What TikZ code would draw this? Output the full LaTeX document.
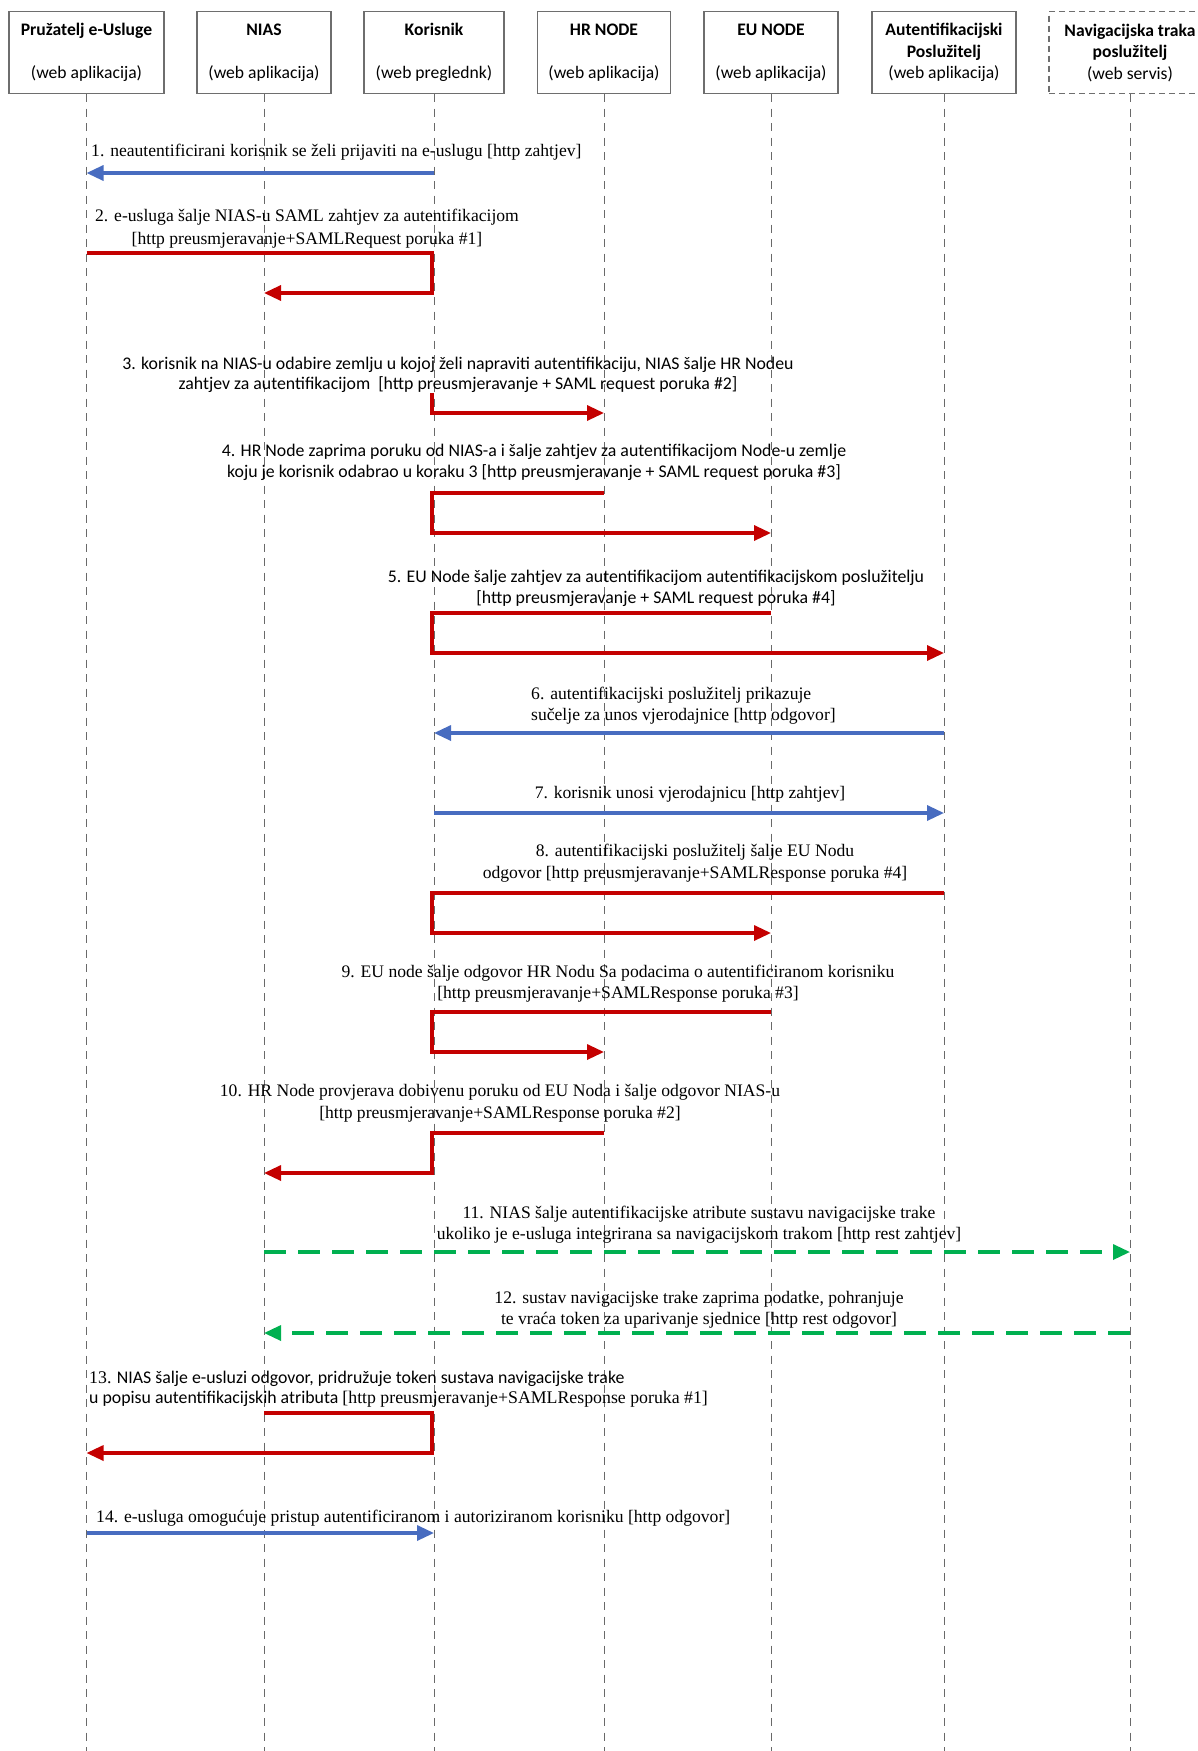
\documentclass[tikz,border=0pt]{standalone}
\usepackage{fontspec}
\setmainfont{Liberation Serif}
\setsansfont{Carlito}
\usetikzlibrary{arrows.meta}
\definecolor{myred}{RGB}{196,0,0}
\definecolor{myblue}{RGB}{72,108,192}
\definecolor{mygreen}{RGB}{0,176,80}
\definecolor{boxgray}{RGB}{110,110,110}
\definecolor{lifegray}{RGB}{105,105,105}
\begin{document}
\begin{tikzpicture}[x=1pt,y=-1pt,
  actor/.style={draw=boxgray, line width=1.2pt, minimum height=82pt, inner sep=0pt, align=center,
    font=\sffamily\fontsize{17.6}{21.5}\selectfont, anchor=north},
  lifeline/.style={draw=lifegray, line width=1pt, dash pattern=on 8pt off 6.5pt},
  msg/.style={inner sep=0pt, font=\rmfamily\fontsize{17.6}{21}\selectfont},
  msgs/.style={inner sep=0pt, font=\sffamily\fontsize{17.8}{21}\selectfont},
  redarr/.style={draw=myred, line width=3.3pt, -{Triangle[length=17pt,width=15pt]}},
  bluearr/.style={draw=myblue, line width=3.3pt, -{Triangle[length=17pt,width=15pt]}},
  greenarr/.style={draw=mygreen, line width=3.3pt, dash pattern=on 22pt off 12pt, -{Triangle[length=17pt,width=15pt]}}
]
\useasboundingbox (0,0) rectangle (1197,1751);
\fill[white] (0,0) rectangle (1197,1751);

% actors
\node[actor, minimum width=155pt] (b1) at (86.5,11) {\textbf{Pružatelj e-Usluge}\\[21.5pt](web aplikacija)};
\node[actor, minimum width=134pt] (b2) at (264,11) {\textbf{NIAS}\\[21.5pt](web aplikacija)};
\node[actor, minimum width=140pt] (b3) at (434,11) {\textbf{Korisnik}\\[21.5pt](web preglednk)};
\node[actor, minimum width=133pt] (b4) at (604,11) {\textbf{HR NODE}\\[21.5pt](web aplikacija)};
\node[actor, minimum width=134pt] (b5) at (771,11) {\textbf{EU NODE}\\[21.5pt](web aplikacija)};
\node[actor, minimum width=144pt] (b6) at (944,11) {\textbf{Autentifikacijski}\\\textbf{Poslužitelj}\\(web aplikacija)};
\node[actor, minimum width=162pt, dashed, dash pattern=on 6pt off 4pt] (b7) at (1130,11) {\textbf{Navigacijska traka}\\\textbf{poslužitelj}\\(web servis)};

% lifelines
\foreach \i in {1,...,7} {
  \coordinate (e\i) at (b\i.south |- 0,1751);
  \draw[lifeline] (b\i.south) -- (e\i);
}
\coordinate (k) at (432,0);

% 1
\node[msg, anchor=base west] (t1) at (91,156) {1. neautentificirani korisnik se želi prijaviti na e-uslugu [http zahtjev]};
\draw[bluearr] (b3.south |- 0,173) -- (b1.south |- 0,173);

% 2
\node[msg, anchor=base] (t2a) at (307,221) {2. e-usluga šalje NIAS-u SAML zahtjev za autentifikacijom};
\node[msg, anchor=base] (t2b) at (307,244) {[http preusmjeravanje+SAMLRequest poruka \#1]};
\draw[redarr] (b1.south |- 0,253) -- (k |- 0,253) -- (k |- 0,293) -- (b2.south |- 0,293);

% 3
\node[msgs, anchor=base] (t3a) at (458,369) {3. korisnik na NIAS-u odabire zemlju u kojoj želi napraviti autentifikaciju, NIAS šalje HR Nodeu};
\node[msgs, anchor=base] (t3b) at (458,389) {zahtjev za autentifikacijom\ \ [http preusmjeravanje + SAML request poruka \#2]};
\draw[redarr] (k |- 0,393) -- (k |- 0,413) -- (b4.south |- 0,413);

% 4
\node[msgs, anchor=base] (t4a) at (534,456) {4. HR Node zaprima poruku od NIAS-a i šalje zahtjev za autentifikacijom Node-u zemlje};
\node[msgs, anchor=base] (t4b) at (534,477) {koju je korisnik odabrao u koraku 3 [http preusmjeravanje + SAML request poruka \#3]};
\draw[redarr] (b4.south |- 0,493) -- (k |- 0,493) -- (k |- 0,533) -- (b5.south |- 0,533);

% 5
\node[msgs, anchor=base] (t5a) at (656,582) {5. EU Node šalje zahtjev za autentifikacijom autentifikacijskom poslužitelju};
\node[msgs, anchor=base] (t5b) at (656,603) {[http preusmjeravanje + SAML request poruka \#4]};
\draw[redarr] (b5.south |- 0,613) -- (k |- 0,613) -- (k |- 0,653) -- (b6.south |- 0,653);

% 6
\node[msg, anchor=base west] (t6a) at (531,699) {6. autentifikacijski poslužitelj prikazuje};
\node[msg, anchor=base west] (t6b) at (531,720) {sučelje za unos vjerodajnice [http odgovor]};
\draw[bluearr] (b6.south |- 0,733) -- (b3.south |- 0,733);

% 7
\node[msg, anchor=base] (t7) at (690,798) {7. korisnik unosi vjerodajnicu [http zahtjev]};
\draw[bluearr] (b3.south |- 0,813) -- (b6.south |- 0,813);

% 8
\node[msg, anchor=base] (t8a) at (695,856) {8. autentifikacijski poslužitelj šalje EU Nodu};
\node[msg, anchor=base] (t8b) at (695,878) {odgovor [http preusmjeravanje+SAMLResponse poruka \#4]};
\draw[redarr] (b6.south |- 0,893) -- (k |- 0,893) -- (k |- 0,933) -- (b5.south |- 0,933);

% 9
\node[msg, anchor=base] (t9a) at (618,977) {9. EU node šalje odgovor HR Nodu Sa podacima o autentificiranom korisniku};
\node[msg, anchor=base] (t9b) at (618,998) {[http preusmjeravanje+SAMLResponse poruka \#3]};
\draw[redarr] (b5.south |- 0,1012) -- (k |- 0,1012) -- (k |- 0,1052) -- (b4.south |- 0,1052);

% 10
\node[msg, anchor=base] (t10a) at (500,1096) {10. HR Node provjerava dobivenu poruku od EU Noda i šalje odgovor NIAS-u};
\node[msg, anchor=base] (t10b) at (500,1118) {[http preusmjeravanje+SAMLResponse poruka \#2]};
\draw[redarr] (b4.south |- 0,1133) -- (k |- 0,1133) -- (k |- 0,1173) -- (b2.south |- 0,1173);

% 11
\node[msg, anchor=base] (t11a) at (699,1218) {11. NIAS šalje autentifikacijske atribute sustavu navigacijske trake};
\node[msg, anchor=base] (t11b) at (699,1239) {ukoliko je e-usluga integrirana sa navigacijskom trakom [http rest zahtjev]};
\draw[greenarr] (b2.south |- 0,1252) -- (b7.south |- 0,1252);

% 12
\node[msg, anchor=base] (t12a) at (699,1303) {12. sustav navigacijske trake zaprima podatke, pohranjuje};
\node[msg, anchor=base] (t12b) at (699,1324) {te vraća token za uparivanje sjednice [http rest odgovor]};
\draw[greenarr] (b7.south |- 0,1333) -- (b2.south |- 0,1333);

% 13
\node[msgs, anchor=base west] (t13a) at (89,1383) {{\rmfamily 13.} NIAS šalje e-usluzi odgovor, pridružuje token sustava navigacijske trake};
\node[msgs, anchor=base west] (t13b) at (89,1403) {u popisu autentifikacijskih atributa {\rmfamily [http preusmjeravanje+SAMLResponse poruka \#1]}};
\draw[redarr] (b2.south |- 0,1413) -- (k |- 0,1413) -- (k |- 0,1453) -- (b1.south |- 0,1453);

% 14
\node[msg, anchor=base west] (t14) at (96,1522) {14. e-usluga omogućuje pristup autentificiranom i autoriziranom korisniku [http odgovor]};
\draw[bluearr] (b1.south |- 0,1533) -- (b3.south |- 0,1533);
\end{tikzpicture}
\end{document}
